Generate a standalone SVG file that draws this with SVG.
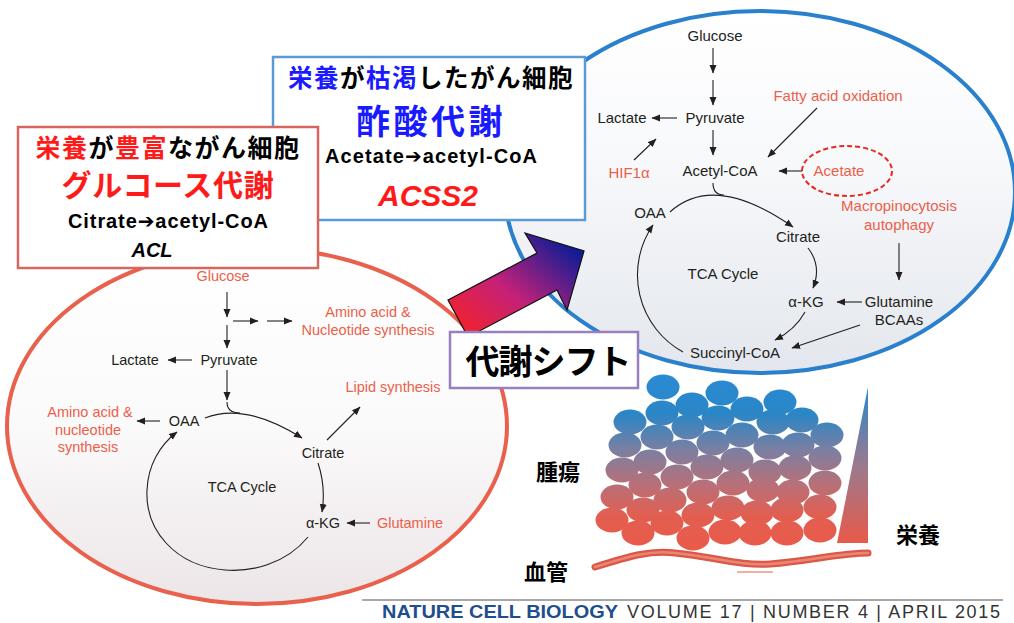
<svg xmlns="http://www.w3.org/2000/svg" width="1014" height="623" viewBox="0 0 1014 623">
<style>
  .lbl{font-family:"Liberation Sans",Arial,sans-serif;font-size:15px;fill:#231f20;text-anchor:middle}
  .sm{font-size:14.5px}
  .red{fill:#ec5f4b}
  .ln{fill:none;stroke:#231f20;stroke-width:1.1;marker-end:url(#ah)}
  .plain{fill:none;stroke:#231f20;stroke-width:1.1}
  .jp{font-family:"Noto Sans CJK JP",sans-serif;font-weight:700;text-anchor:middle}
  .en{font-family:"Liberation Sans","DejaVu Sans",Arial,sans-serif;font-weight:700;text-anchor:middle;fill:#000}
  .cell{fill:url(#cellGrad)}
  .box{fill:#fff;stroke-width:2.5}
  .vessel{fill:none;stroke-linecap:round}
</style>
<defs>
  <marker id="ah" markerUnits="userSpaceOnUse" markerWidth="9" markerHeight="8" refX="8" refY="4" orient="auto">
    <path d="M0,0.5 L8.5,4 L0,7.5 z" fill="#231f20"/>
  </marker>
  <linearGradient id="rightFill" x1="0" y1="0" x2="0" y2="1">
    <stop offset="0" stop-color="#ffffff"/>
    <stop offset="0.4" stop-color="#f8f9fb"/>
    <stop offset="1" stop-color="#e3e7ed"/>
  </linearGradient>
  <linearGradient id="leftFill" x1="0" y1="0" x2="0" y2="1">
    <stop offset="0" stop-color="#ffffff"/>
    <stop offset="0.5" stop-color="#fbfafa"/>
    <stop offset="1" stop-color="#ece5e8"/>
  </linearGradient>
  <linearGradient id="shiftGrad" gradientUnits="userSpaceOnUse" x1="470" y1="340" x2="560" y2="235">
    <stop offset="0" stop-color="#f2222a"/>
    <stop offset="0.45" stop-color="#c42178"/>
    <stop offset="1" stop-color="#0c1c96"/>
  </linearGradient>
  <linearGradient id="cellGrad" gradientUnits="userSpaceOnUse" x1="0" y1="375" x2="0" y2="552">
    <stop offset="0" stop-color="#2a8ad4"/>
    <stop offset="0.22" stop-color="#2a86c6"/>
    <stop offset="0.42" stop-color="#7a7fa2"/>
    <stop offset="0.62" stop-color="#b87078"/>
    <stop offset="0.8" stop-color="#e35e50"/>
    <stop offset="1" stop-color="#ea5a4a"/>
  </linearGradient>
  <linearGradient id="nutrientGrad" gradientUnits="userSpaceOnUse" x1="0" y1="387" x2="0" y2="543">
    <stop offset="0" stop-color="#2a86cc"/>
    <stop offset="0.5" stop-color="#9a7a8e"/>
    <stop offset="1" stop-color="#e85a4a"/>
  </linearGradient>
  <path id="vesselPath" d="M595,567 C630,556 650,550 675,553 C715,557 740,566 770,564 C810,561 840,553 868,553"/>
</defs>

<rect width="1014" height="623" fill="#fff"/>

<!-- nutrient-rich cell: glucose metabolism -->
<g id="cell-rich">
  <ellipse cx="257" cy="426" rx="250" ry="178" fill="url(#leftFill)" stroke="#e9604c" stroke-width="4"/>
  <text class="lbl sm red" x="223" y="281">Glucose</text>
  <text class="lbl sm red" x="368" y="317">Amino acid &amp;</text>
  <text class="lbl sm red" x="368" y="335">Nucleotide synthesis</text>
  <text class="lbl sm" x="135" y="365">Lactate</text>
  <text class="lbl sm" x="229" y="365">Pyruvate</text>
  <text class="lbl sm red" x="393" y="392">Lipid synthesis</text>
  <text class="lbl sm red" x="90" y="417">Amino acid &amp;</text>
  <text class="lbl sm red" x="88" y="435">nucleotide</text>
  <text class="lbl sm red" x="88" y="452">synthesis</text>
  <text class="lbl sm" x="184" y="426">OAA</text>
  <text class="lbl sm" x="323" y="458">Citrate</text>
  <text class="lbl sm" x="242" y="492">TCA Cycle</text>
  <text class="lbl sm" x="323" y="528">α-KG</text>
  <text class="lbl sm red" x="410" y="528">Glutamine</text>
</g>

<!-- nutrient-poor cell: acetate metabolism -->
<g id="cell-poor">
  <ellipse cx="760" cy="192" rx="255" ry="181" fill="url(#rightFill)" stroke="#2a80cc" stroke-width="4"/>
  <text class="lbl" x="715" y="41">Glucose</text>
  <text class="lbl" x="622" y="123">Lactate</text>
  <text class="lbl" x="715" y="123">Pyruvate</text>
  <text class="lbl red" x="838" y="101">Fatty acid oxidation</text>
  <text class="lbl red" x="629" y="178">HIF1α</text>
  <text class="lbl" x="720" y="176">Acetyl-CoA</text>
  <ellipse cx="847" cy="171" rx="45" ry="25" fill="none" stroke="#e8281e" stroke-width="2" stroke-dasharray="5,3"/>
  <text class="lbl red" x="839" y="176">Acetate</text>
  <text class="lbl red" x="899" y="211">Macropinocytosis</text>
  <text class="lbl red" x="899" y="230">autophagy</text>
  <text class="lbl" x="650" y="218">OAA</text>
  <text class="lbl" x="798" y="242">Citrate</text>
  <text class="lbl" x="723" y="279">TCA Cycle</text>
  <text class="lbl" x="806" y="307">α-KG</text>
  <text class="lbl" x="899" y="307">Glutamine</text>
  <text class="lbl" x="899" y="325">BCAAs</text>
  <text class="lbl" x="735" y="358">Succinyl-CoA</text>
</g>

<!-- pathway connectors -->
<g id="connectors">
  <!-- glucose pathway -->
  <path class="ln" d="M227,292 V317"/>
  <path class="ln" d="M233,321 H258"/>
  <path class="ln" d="M267,321 H292"/>
  <path class="ln" d="M227,325 V348"/>
  <path class="ln" d="M192,360 H168"/>
  <path class="ln" d="M227,370 V400"/>
  <path class="plain" d="M227,402 C227,410 232,413 240,413"/>
  <path class="ln" d="M205,418 Q245,402 302,438"/>
  <path class="ln" d="M160,421 H137"/>
  <path class="ln" d="M327,440 L360,407"/>
  <path class="ln" d="M318,463 Q326,487 322,512"/>
  <path class="ln" d="M370,523 H347"/>
  <path class="ln" d="M308,537 C285,565 250,572 225,570 C175,566 145,530 147,490 C148,465 160,445 177,432"/>
  <!-- acetate pathway -->
  <path class="ln" d="M713,48 V73"/>
  <path class="ln" d="M713,80 V105"/>
  <path class="ln" d="M677,118 H652"/>
  <path class="ln" d="M713,130 V155"/>
  <path class="ln" d="M634,160 L656,139"/>
  <path class="ln" d="M817,108 L768,157"/>
  <path class="ln" d="M802,171 H779"/>
  <path class="plain" d="M713,183 C713,191 716,195 724,195"/>
  <path class="ln" d="M670,212 Q714,172 793,227"/>
  <path class="ln" d="M808,248 Q822,266 813,288"/>
  <path class="ln" d="M862,302 H837"/>
  <path class="ln" d="M899,243 V280"/>
  <path class="ln" d="M805,312 Q795,330 775,340"/>
  <path class="ln" d="M860,325 L792,348"/>
  <path class="ln" d="M683,352 A88,88 0 0 1 653,225"/>
</g>

<!-- heading box: nutrient-poor -->
<g id="box-poor">
  <rect class="box" x="273" y="57" width="312" height="163" stroke="#5b9bd5"/>
  <text class="jp" x="431" y="86.5" font-size="24.5" letter-spacing="1.5" fill="#000"><tspan fill="#1a1aff">栄養</tspan>が<tspan fill="#1a1aff">枯渇</tspan>したがん細胞</text>
  <text class="jp" x="431" y="134" font-size="34" letter-spacing="3.5" fill="#1a1aff">酢酸代謝</text>
  <text class="en" x="431" y="163" font-size="20" textLength="212">Acetate➔acetyl-CoA</text>
  <text class="en" x="428" y="206" font-size="30" font-style="italic" style="fill:#ff1a1a">ACSS2</text>
</g>

<!-- heading box: nutrient-rich -->
<g id="box-rich">
  <rect class="box" x="18" y="127" width="300" height="141" stroke="#d8665f"/>
  <text class="jp" x="168" y="157" font-size="25" letter-spacing="1.5" fill="#000"><tspan fill="#ff1a1a">栄養</tspan>が<tspan fill="#ff1a1a">豊富</tspan>ながん細胞</text>
  <text class="jp" x="168" y="196" font-size="30" letter-spacing="0.7" fill="#ff1a1a">グルコース代謝</text>
  <text class="en" x="168" y="228" font-size="20" textLength="200">Citrate➔acetyl-CoA</text>
  <text class="en" x="152" y="257" font-size="20" font-style="italic">ACL</text>
</g>

<!-- metabolic shift arrow and label -->
<g id="shift">
  <polygon points="448,300 537,253 525,233 584,251 567,310 557,290 468,337" fill="url(#shiftGrad)" stroke="#111" stroke-width="1.2"/>
  <rect class="box" x="450" y="332" width="188" height="56" stroke="#9a7fbf"/>
  <text class="jp" x="548" y="374" font-size="34" letter-spacing="-1" fill="#000">代謝シフト</text>
</g>

<!-- tumour tissue with nutrient gradient -->
<g id="tumor">
  <g>
    <ellipse class="cell" cx="663" cy="387" rx="16.5" ry="12.5"/>
    <ellipse class="cell" cx="722" cy="393" rx="16.5" ry="12.5"/>
    <ellipse class="cell" cx="780" cy="402" rx="16.5" ry="12.5"/>
    <ellipse class="cell" cx="692" cy="405" rx="16.5" ry="12.5"/>
    <ellipse class="cell" cx="747" cy="409" rx="16.5" ry="12.5"/>
    <ellipse class="cell" cx="662" cy="413" rx="16.5" ry="12.5"/>
    <ellipse class="cell" cx="630" cy="422" rx="16.5" ry="12.5"/>
    <ellipse class="cell" cx="718" cy="418" rx="16.5" ry="12.5"/>
    <ellipse class="cell" cx="688" cy="427" rx="16.5" ry="12.5"/>
    <ellipse class="cell" cx="773" cy="422" rx="16.5" ry="12.5"/>
    <ellipse class="cell" cx="802" cy="420" rx="16.5" ry="12.5"/>
    <ellipse class="cell" cx="827" cy="435" rx="16.5" ry="12.5"/>
    <ellipse class="cell" cx="657" cy="437" rx="16.5" ry="12.5"/>
    <ellipse class="cell" cx="625" cy="445" rx="16.5" ry="12.5"/>
    <ellipse class="cell" cx="742" cy="435" rx="16.5" ry="12.5"/>
    <ellipse class="cell" cx="713" cy="443" rx="16.5" ry="12.5"/>
    <ellipse class="cell" cx="682" cy="452" rx="16.5" ry="12.5"/>
    <ellipse class="cell" cx="798" cy="445" rx="16.5" ry="12.5"/>
    <ellipse class="cell" cx="770" cy="447" rx="16.5" ry="12.5"/>
    <ellipse class="cell" cx="825" cy="458" rx="16.5" ry="12.5"/>
    <ellipse class="cell" cx="650" cy="462" rx="16.5" ry="12.5"/>
    <ellipse class="cell" cx="622" cy="470" rx="16.5" ry="12.5"/>
    <ellipse class="cell" cx="737" cy="460" rx="16.5" ry="12.5"/>
    <ellipse class="cell" cx="707" cy="467" rx="16.5" ry="12.5"/>
    <ellipse class="cell" cx="795" cy="468" rx="16.5" ry="12.5"/>
    <ellipse class="cell" cx="765" cy="472" rx="16.5" ry="12.5"/>
    <ellipse class="cell" cx="825" cy="483" rx="16.5" ry="12.5"/>
    <ellipse class="cell" cx="677" cy="477" rx="16.5" ry="12.5"/>
    <ellipse class="cell" cx="645" cy="485" rx="16.5" ry="12.5"/>
    <ellipse class="cell" cx="733" cy="483" rx="16.5" ry="12.5"/>
    <ellipse class="cell" cx="703" cy="492" rx="16.5" ry="12.5"/>
    <ellipse class="cell" cx="617" cy="497" rx="16.5" ry="12.5"/>
    <ellipse class="cell" cx="793" cy="492" rx="16.5" ry="12.5"/>
    <ellipse class="cell" cx="763" cy="490" rx="16.5" ry="12.5"/>
    <ellipse class="cell" cx="670" cy="500" rx="16.5" ry="12.5"/>
    <ellipse class="cell" cx="820" cy="507" rx="16.5" ry="12.5"/>
    <ellipse class="cell" cx="643" cy="510" rx="16.5" ry="12.5"/>
    <ellipse class="cell" cx="728" cy="508" rx="16.5" ry="12.5"/>
    <ellipse class="cell" cx="787" cy="510" rx="16.5" ry="12.5"/>
    <ellipse class="cell" cx="757" cy="513" rx="16.5" ry="12.5"/>
    <ellipse class="cell" cx="698" cy="515" rx="16.5" ry="12.5"/>
    <ellipse class="cell" cx="612" cy="520" rx="16.5" ry="12.5"/>
    <ellipse class="cell" cx="667" cy="523" rx="16.5" ry="12.5"/>
    <ellipse class="cell" cx="820" cy="530" rx="16.5" ry="12.5"/>
    <ellipse class="cell" cx="787" cy="533" rx="16.5" ry="12.5"/>
    <ellipse class="cell" cx="755" cy="533" rx="16.5" ry="12.5"/>
    <ellipse class="cell" cx="725" cy="532" rx="16.5" ry="12.5"/>
    <ellipse class="cell" cx="638" cy="533" rx="16.5" ry="12.5"/>
    <ellipse class="cell" cx="693" cy="538" rx="16.5" ry="12.5"/>
  </g>
  <polygon points="868,387 868,543 837,543" fill="url(#nutrientGrad)"/>
  <!-- blood vessel: darker wall with a lighter core -->
  <use href="#vesselPath" class="vessel" stroke="#dc5846" stroke-width="7"/>
  <use href="#vesselPath" class="vessel" stroke="#eb8676" stroke-width="2.5"/>
  <path d="M737,572 H773" stroke="#ec7a6a" stroke-width="2" opacity="0.6"/>
  <text class="jp" x="558" y="480" font-size="22" fill="#000">腫瘍</text>
  <text class="jp" x="546" y="580" font-size="22" fill="#000">血管</text>
  <text class="jp" x="918" y="543" font-size="22" fill="#000">栄養</text>
</g>

<!-- journal reference -->
<g id="footer">
  <line x1="362" y1="600" x2="1003" y2="600" stroke="#8a8a8a" stroke-width="1.5"/>
  <text x="382" y="618" font-family="Liberation Sans,Arial,sans-serif" font-size="18" font-weight="700" fill="#1f4e8c" textLength="236" lengthAdjust="spacingAndGlyphs">NATURE CELL BIOLOGY</text>
  <text x="627" y="618" font-family="Liberation Sans,Arial,sans-serif" font-size="18" fill="#333" textLength="373">VOLUME 17 | NUMBER 4 | APRIL 2015</text>
</g>
</svg>
